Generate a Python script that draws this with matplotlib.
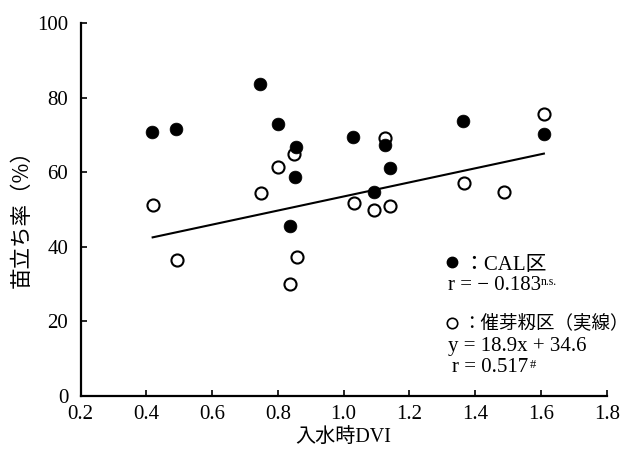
import matplotlib
matplotlib.use("Agg")
import matplotlib.pyplot as plt
import numpy as np

# ---- data ----
cal_x = [0.418, 0.490, 0.745, 0.801, 0.837, 0.852, 0.855, 1.029, 1.092, 1.127, 1.141, 1.364, 1.609]
cal_y = [70.7, 71.5, 83.7, 72.9, 45.7, 58.8, 66.9, 69.5, 54.8, 67.3, 61.2, 73.8, 70.3]

seed_x = [0.419, 0.492, 0.748, 0.801, 0.837, 0.849, 0.857, 1.031, 1.092, 1.127, 1.141, 1.366, 1.489, 1.609]
seed_y = [51.3, 36.4, 54.5, 61.5, 30.0, 64.9, 37.3, 51.7, 49.9, 69.1, 50.9, 57.2, 54.8, 75.6]

fit_slope = 18.9
fit_intercept = 34.6

x_ticks = [0.2, 0.4, 0.6, 0.8, 1.0, 1.2, 1.4, 1.6, 1.8]
x_ticklabels = ["0.2", "0.4", "0.6", "0.8", "1.0", "1.2", "1.4", "1.6", "1.8"]
y_ticks = [0, 20, 40, 60, 80, 100]
y_ticklabels = ["0", "20", "40", "60", "80", "100"]

xlabel = "入水時DVI"
ylabel = "苗立ち率（%）"
leg_cal = "：CAL区"
leg_cal_r = "r = − 0.183"
leg_cal_sup = "n.s."
leg_seed = "：催芽籾区（実線）"
leg_seed_eq = "y = 18.9x + 34.6"
leg_seed_r = "r = 0.517"
leg_seed_sup = "#"

SERIF = ["Liberation Serif", "Noto Sans CJK JP", "DejaVu Sans"]
CJK = ["Noto Sans CJK JP", "DejaVu Sans"]

fig = plt.figure(figsize=(6.35, 4.55), dpi=100)
ax = fig.add_axes([0.127, 0.1303, 0.8284, 0.8185])

# regression line over the seed data range
fx = np.array([min(seed_x), max(seed_x)])
ax.plot(fx, fit_slope * fx + fit_intercept, color="black", lw=1.5, zorder=2)

ax.plot(seed_x, seed_y, linestyle="none", marker="o", ms=8.7, mfc="white",
        mec="black", mew=1.5, zorder=3)
ax.plot(cal_x, cal_y, linestyle="none", marker="o", ms=9.2, mfc="black",
        mec="black", mew=0.5, zorder=4)

ax.set_xlim(0.2, 1.8)
ax.set_ylim(0, 100)
ax.set_xticks(x_ticks)
ax.set_xticklabels(x_ticklabels, fontfamily=SERIF, fontsize=15)
ax.set_yticks(y_ticks)
ax.set_yticklabels(y_ticklabels, fontfamily=SERIF, fontsize=15)
ax.tick_params(direction="in", length=4, width=1.2, pad=7)
ax.tick_params(axis="y", pad=9)
for s in ["top", "right"]:
    ax.spines[s].set_visible(False)
for s in ["left", "bottom"]:
    ax.spines[s].set_linewidth(1.6)

ax.set_xlabel(xlabel, fontfamily=SERIF, fontsize=14.5, va="center")
ax.xaxis.set_label_coords(0.5, -0.111)
ax.set_ylabel(ylabel, fontfamily=CJK, fontsize=15.5, va="center")
ax.yaxis.set_label_coords(-0.112, 0.49)

# legend / annotation block
ax.plot([0.7053], [0.3598], transform=ax.transAxes, marker="o", ms=7.5,
        mfc="black", mec="black", clip_on=False, linestyle="none")
ax.text(0.727, 0.3375, leg_cal, transform=ax.transAxes, fontfamily=SERIF,
        fontsize=15, va="baseline", ha="left")
t1 = ax.text(0.698, 0.2838, leg_cal_r, transform=ax.transAxes, fontfamily=SERIF,
             fontsize=15, va="baseline", ha="left")
ax.annotate(leg_cal_sup, xy=(1.0, 0.55), xycoords=t1, fontfamily=SERIF,
            fontsize=8.5, va="baseline", ha="left")

ax.plot([0.7053], [0.1952], transform=ax.transAxes, marker="o", ms=7.5,
        mfc="white", mec="black", mew=1.2, clip_on=False, linestyle="none")
ax.text(0.725, 0.182, leg_seed, transform=ax.transAxes, fontfamily=CJK,
        fontsize=13.3, va="baseline", ha="left")
ax.text(0.698, 0.120, leg_seed_eq, transform=ax.transAxes, fontfamily=SERIF,
        fontsize=15, va="baseline", ha="left")
t2 = ax.text(0.7053, 0.0645, leg_seed_r, transform=ax.transAxes, fontfamily=SERIF,
             fontsize=15, va="baseline", ha="left")
ax.annotate(leg_seed_sup, xy=(1.02, 0.47), xycoords=t2, fontfamily=SERIF,
            fontsize=9, va="baseline", ha="left")

fig.savefig("out.png", dpi=100)
